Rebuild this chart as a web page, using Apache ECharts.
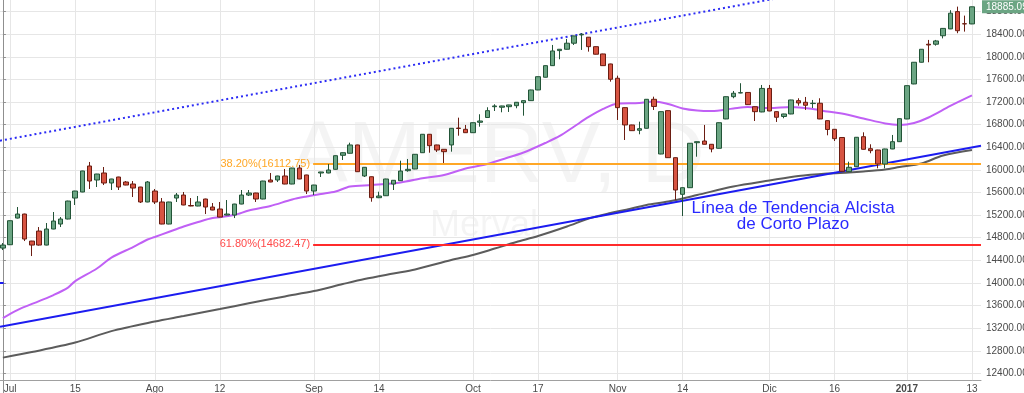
<!DOCTYPE html>
<html>
<head>
<meta charset="utf-8">
<script src="https://cdn.jsdelivr.net/npm/echarts@6/dist/echarts.min.js"></script>
<style>
html,body{margin:0;padding:0;background:#fff;}
#chart{width:1024px;height:393px;}
</style>
</head>
<body>
<div id="chart"></div>
<script>
// ---------- DATA ----------
const dates = [
'2016-06-30','2016-07-01','2016-07-04','2016-07-05','2016-07-06','2016-07-07','2016-07-11','2016-07-12','2016-07-13','2016-07-14',
'2016-07-15','2016-07-18','2016-07-19','2016-07-20','2016-07-21','2016-07-22','2016-07-25','2016-07-26','2016-07-27','2016-07-28',
'2016-07-29','2016-08-01','2016-08-02','2016-08-03','2016-08-04','2016-08-05','2016-08-08','2016-08-09','2016-08-10','2016-08-11',
'2016-08-12','2016-08-16','2016-08-17','2016-08-18','2016-08-19','2016-08-22','2016-08-23','2016-08-24','2016-08-25','2016-08-26',
'2016-08-29','2016-08-30','2016-08-31','2016-09-01','2016-09-02','2016-09-05','2016-09-06','2016-09-07','2016-09-08','2016-09-09',
'2016-09-12','2016-09-13','2016-09-14','2016-09-15','2016-09-16','2016-09-19','2016-09-20','2016-09-21','2016-09-22','2016-09-23',
'2016-09-26','2016-09-27','2016-09-28','2016-09-29','2016-09-30','2016-10-03','2016-10-04','2016-10-05','2016-10-06','2016-10-07',
'2016-10-11','2016-10-12','2016-10-13','2016-10-14','2016-10-17','2016-10-18','2016-10-19','2016-10-20','2016-10-21','2016-10-24',
'2016-10-25','2016-10-26','2016-10-27','2016-10-28','2016-10-31','2016-11-01','2016-11-02','2016-11-03','2016-11-04','2016-11-07',
'2016-11-08','2016-11-09','2016-11-10','2016-11-11','2016-11-14','2016-11-15','2016-11-16','2016-11-17','2016-11-18','2016-11-21',
'2016-11-22','2016-11-23','2016-11-24','2016-11-25','2016-11-29','2016-11-30','2016-12-01','2016-12-02','2016-12-05','2016-12-06',
'2016-12-07','2016-12-12','2016-12-13','2016-12-14','2016-12-15','2016-12-16','2016-12-19','2016-12-20','2016-12-21','2016-12-22',
'2016-12-23','2016-12-26','2016-12-27','2016-12-28','2016-12-29','2017-01-02','2017-01-03','2017-01-04','2017-01-05','2017-01-06',
'2017-01-09','2017-01-10','2017-01-11','2017-01-12','2017-01-13'
];
const open = [
14617,14676,15148,15219,14741,14918,14670,14954,15042,15131,
15502,15609,16069,15821,15945,15768,15874,15786,15750,15697,
15432,15626,15432,15042,15502,15555,15370,15361,15485,15343,
15308,15201,15201,15396,15555,15591,15485,15821,15821,15892,
15750,16033,15910,15626,15945,15945,16010,16258,16294,16441,
15892,15879,15508,15543,15750,15809,15986,16016,16304,16630,
16441,16364,16441,16740,16718,16658,16842,16927,17118,17108,
17118,17136,17189,17225,17414,17639,17844,18110,18134,18241,
18388,18347,18180,18051,17874,17621,17101,16795,16701,16736,
17249,16281,17048,16216,15568,15685,16481,16511,16453,16382,
16901,17295,17361,17370,17118,17025,17441,17030,16945,16989,
17225,17196,17173,17179,16871,16718,16573,15968,16056,16587,
16375,16352,16104,16370,16499,16901,17520,17904,18223,18223,
18373,18494,18800,18586,18582
];
const close = [
14670,15101,15219,14777,14670,14670,14954,15095,15131,15449,
15626,15981,15803,15927,15768,15839,15697,15732,15679,15432,
15786,15432,15042,15432,15555,15379,15361,15432,15343,15290,
15166,15219,15396,15555,15591,15485,15803,15786,15892,15750,
16033,15839,15626,15732,15963,15998,16251,16304,16441,15968,
16046,15508,15538,15839,15816,15980,16010,16276,16630,16428,
16352,16322,16736,16732,16658,16835,16865,17048,17131,17131,
17149,17196,17225,17414,17649,17844,18104,18134,18241,18370,
18400,18180,18046,17844,17603,17101,16795,16694,16729,17249,
17122,17030,16216,15644,15685,16471,16499,16453,16370,16835,
17295,17356,17366,17154,17030,17441,17042,16931,16989,17237,
17184,17143,17179,16901,16715,16552,15975,16046,16577,16364,
16340,16104,16370,16499,16906,17490,17904,18134,18210,18281,
18503,18772,18462,18582,18885.09
];
const low = [
14582,14670,15140,14741,14476,14660,14665,14950,14989,15125,
15379,15605,15662,15697,15732,15644,15644,15728,15520,15414,
15428,15396,15038,15038,15432,15375,15357,15357,15219,15286,
15162,15195,15148,15392,15538,15432,15480,15782,15786,15746,
15746,15835,15573,15555,15874,15940,16005,16175,16290,15963,
15874,15437,15500,15538,15644,15805,15968,16012,16300,16304,
16317,16122,16322,16605,16654,16654,16764,16922,17042,17019,
17025,17090,16959,17221,17410,17635,17840,17957,18130,18210,
18122,18092,18042,17840,17561,16883,16529,16690,16630,16732,
17060,16277,16212,15467,15184,15680,16233,16449,16311,16378,
16897,17267,17356,17150,16865,17020,17038,16848,16913,16985,
17136,17060,17095,16897,16612,16511,15970,15963,16052,16360,
16294,16028,16028,16366,16495,16897,17516,17900,17904,18198,
18326,18490,18418,18446,18578
];
const high = [
14706,15105,15343,15225,14745,14989,15060,15255,15166,15455,
15630,15985,16140,15930,16051,15842,15878,15803,15803,15700,
15803,15662,15502,15436,15591,15609,15502,15538,15490,15414,
15432,15467,15400,15644,15644,15595,15807,15945,15896,16016,
16037,16087,15914,15736,15966,16104,16255,16308,16481,16445,
16050,15883,15614,15843,15820,16163,16193,16280,16634,16634,
16445,16368,16740,16924,16795,16839,16984,17108,17161,17135,
17152,17200,17229,17418,17653,17848,18210,18138,18317,18374,
18418,18351,18184,18055,17878,17667,17105,16799,16853,17253,
17295,17034,17052,16220,15690,16475,16503,16795,16457,16839,
17299,17396,17533,17374,17122,17502,17502,17034,16993,17241,
17267,17290,17237,17267,16875,16722,16577,16145,16581,16665,
16453,16356,16374,16618,16910,17494,17908,18138,18299,18299,
18507,18825,18888,18729,18889
];
// moving averages: [day index, value]
const maPurple = [
[0,13378],[2,13520],[5,13679],[7,13786],[9,13918],[10,14033],[13,14255],[15,14449],[18,14635],[20,14768],
[21,14812],[23,14906],[25,14998],[27,15078],[29,15148],[32,15201],[34,15281],[37,15361],[40,15476],[42,15529],
[44,15573],[46,15617],[48,15706],[51,15732],[55,15777],[58,15853],[61,15910],[64,16025],[67,16104],[69,16184],
[72,16308],[75,16476],[77,16600],[79,16768],[81,16936],[83,17078],[85,17175],[88,17184],[90,17211],[92,17166],
[94,17087],[96,17051],[98,17042],[101,17087],[103,17113],[106,17095],[109,17113],[112,17078],[114,17033],[116,16998],
[119,16910],[122,16821],[124,16795],[126,16830],[128,16927],[131,17131],[134,17317]
];
const maGray = [
[0,12679],[4,12777],[10,12945],[15,13148],[21,13317],[25,13414],[30,13538],[34,13639],[39,13762],[43,13856],
[47,13980],[50,14069],[54,14166],[57,14237],[62,14405],[65,14494],[68,14608],[71,14724],[74,14830],[78,14998],
[81,15140],[84,15237],[86,15290],[89,15379],[92,15440],[96,15555],[101,15706],[106,15812],[110,15892],[114,15936],
[117,15954],[119,15971],[122,16007],[124,16051],[127,16113],[130,16255],[134,16352]
];
const trendSolid = [[-0.4,13224],[135.25,16428]];
const trendDotted = [[-0.4,16517],[113,19175]];
const leftStub = [[-0.4,14010],[0.1,14010]];
const fibLabels = ['38.20%','61.80%'];
const fibPrices = [16112.75,14682.47];
const fibStart = 42.9;
const tickDates = ['2016-07-01','2016-07-15','2016-08-01','2016-08-12','2016-09-01','2016-09-14','2016-10-03','2016-10-17','2016-11-01','2016-11-14','2016-12-01','2016-12-16','2017-01-02','2017-01-13'];
const tickLabels = ['Jul','15','Ago','12','Sep','14','Oct','17','Nov','14','Dic','16','2017','13'];

// ---------- BUILD ----------
const tickIdx = tickDates.map(d => dates.indexOf(d));
const rows = dates.map((d,i) => [i, open[i], close[i], low[i], high[i]]);
const lastClose = close[close.length-1];
const FONT = 'Liberation Sans, Arial, sans-serif';

const chart = echarts.init(document.getElementById('chart'), null, {renderer:'canvas'});
chart.setOption({
  animation:false,
  backgroundColor:'#ffffff',
  textStyle:{fontFamily:FONT},
  grid:{left:0, width:981, top:-11, height:407, containLabel:false, outerBoundsMode:'none'},
  xAxis:{
    type:'value', min:-0.4, max:135.25, offset:-16,
    axisLine:{show:true, lineStyle:{color:'#a0a0a0', width:1}},
    axisTick:{show:false},
    splitLine:{show:false},
    axisLabel:{
      customValues:tickIdx, margin:4, fontSize:10, color:'#4a4a4a',
      formatter:v => { const k = tickIdx.indexOf(v); if (k<0) return ''; return tickLabels[k]==='2017' ? '{b|2017}' : tickLabels[k]; },
      rich:{b:{fontWeight:'bold', fontSize:10, color:'#4a4a4a'}}
    }
  },
  yAxis:{
    type:'value', position:'right', min:12000, max:19200, interval:400, scale:true,
    axisLine:{show:true, lineStyle:{color:'#8f8f8f'}},
    axisTick:{show:true, length:3, lineStyle:{color:'#8f8f8f'}},
    splitLine:{show:true, lineStyle:{color:'#e6e6e6', width:1}},
    axisLabel:{fontSize:10, color:'#4a4a4a', margin:5, showMinLabel:false, showMaxLabel:false,
               formatter:v => (v <= 12000 || v >= 19200) ? '' : v.toFixed(2)}
  },
  graphic:[
    {type:'text', z:-10, silent:true, style:{text:'AMERV, D', x:497, y:158, align:'center', verticalAlign:'middle', font:'88px '+FONT, fill:'rgba(0,0,0,0.045)'}},
    {type:'text', z:-10, silent:true, style:{text:'Merval', x:484, y:226, align:'center', verticalAlign:'middle', font:'36px '+FONT, fill:'rgba(0,0,0,0.045)'}},
    {type:'text', z:100, silent:true, style:{text:'Línea de Tendencia Alcista\nde Corto Plazo', x:793, y:200, align:'center', verticalAlign:'top', font:'17px '+FONT, lineHeight:16, fill:'#2a2aff'}}
  ],
  series:[
    {
      type:'line', data:[], silent:true,
      markLine:{
        silent:true, symbol:'none', z:1, animation:false,
        label:{show:false},
        lineStyle:{color:'#e6e6e6', width:1, type:'solid'},
        data: tickIdx.map(i => [{coord:[i,12281]},{coord:[i,19200]}])
      }
    },
    {
      type:'line', name:'MA gray', data:maGray, showSymbol:false, smooth:0.3, z:3,
      lineStyle:{color:'#5c5c5c', width:2}
    },
    {
      type:'line', name:'MA purple', data:maPurple, showSymbol:false, smooth:0.3, z:3,
      lineStyle:{color:'#c060f5', width:2},
      markLine:{
        silent:true, symbol:'none', z:4, animation:false,
        data:[
          [{coord:trendSolid[0], lineStyle:{color:'#1c1cf0', width:2, type:'solid'}, label:{show:false}},{coord:trendSolid[1]}],
          [{coord:trendDotted[0], lineStyle:{color:'#2b2bf5', width:2, type:[2,3]}, label:{show:false}},{coord:trendDotted[1]}],
          [{coord:leftStub[0], lineStyle:{color:'#1c1cf0', width:2, type:'solid'}, label:{show:false}},{coord:leftStub[1]}],
          [{coord:[fibStart,fibPrices[0]], lineStyle:{color:'#ffa726', width:2, type:'solid'},
            label:{show:true, position:'start', distance:3, color:'#ffa726', fontSize:11, formatter:fibLabels[0]+'('+fibPrices[0].toFixed(2)+')'}},
           {coord:[135.25,fibPrices[0]]}],
          [{coord:[fibStart,fibPrices[1]], lineStyle:{color:'#ff2b2b', width:2, type:'solid'},
            label:{show:true, position:'start', distance:3, color:'#ff4a4a', fontSize:11, formatter:fibLabels[1]+'('+fibPrices[1].toFixed(2)+')'}},
           {coord:[135.25,fibPrices[1]]}]
        ]
      }
    },
    {
      type:'candlestick', name:'MERV', data:rows, encode:{x:0, y:[1,2,3,4]}, barWidth:5, z:5, clip:false,
      itemStyle:{color:'#6ba583', color0:'#d75442', borderColor:'#225437', borderColor0:'#6b1d12', borderWidth:1},
      markLine:{
        silent:true, symbol:'none', z:10, animation:false,
        lineStyle:{color:'rgba(0,0,0,0)', width:0},
        data:[{yAxis:lastClose}],
        label:{show:true, position:'end', distance:1, formatter:lastClose.toFixed(2), color:'#ffffff', fontSize:10,
               backgroundColor:'#6ba583', padding:[2,6,1,4]}
      }
    }
  ]
});
</script>
</body>
</html>
